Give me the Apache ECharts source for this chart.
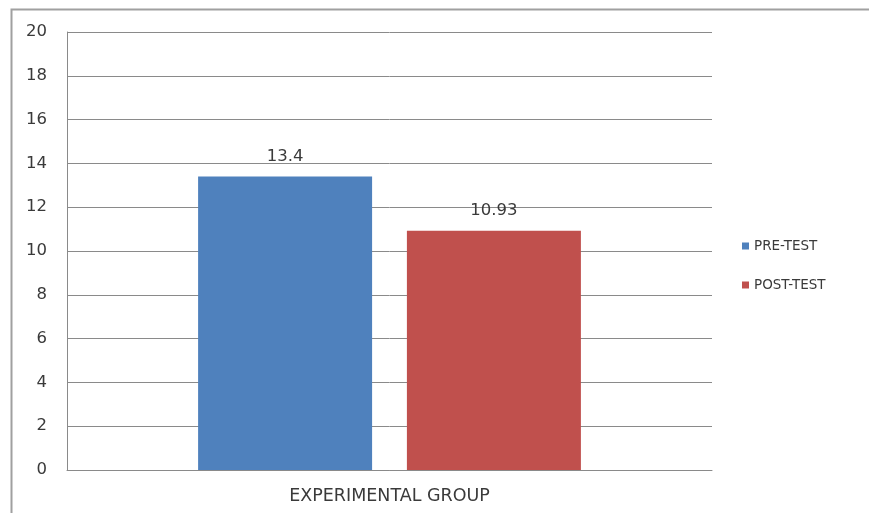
<!DOCTYPE html>
<html>
<head>
<meta charset="utf-8">
<script src="https://cdn.jsdelivr.net/npm/echarts@6/dist/echarts.min.js"></script>
<style>
  html, body { margin: 0; padding: 0; background: #fff; }
  #chart { width: 869px; height: 513px; }
</style>
</head>
<body>
<div id="chart"></div>
<script>
// Group labels along the x axis
const categories = ['EXPERIMENTAL GROUP'];
// Mean scores for each test
const preTest = [13.4];
const postTest = [10.93];
// Value axis range
const yMin = 0, yMax = 20, yStep = 2;

const font = '"DejaVu Sans", "Liberation Sans", Arial, sans-serif';
const textColor = '#3a3a3a';
const chart = echarts.init(document.getElementById('chart'));

chart.setOption({
  backgroundColor: '#fff',
  animation: false,
  textStyle: { fontFamily: font },
  graphic: [{
    type: 'rect',
    shape: { x: 11.5, y: 9.5, width: 900, height: 600 },
    style: { fill: 'none', stroke: '#a0a0a0', lineWidth: 2 },
    silent: true
  }],
  grid: { left: 67, top: 32, right: 157, bottom: 43 },
  legend: {
    orient: 'vertical',
    left: 737,
    top: 234,
    itemWidth: 7,
    itemHeight: 7,
    itemGap: 25,
    icon: 'rect',
    textStyle: { fontFamily: font, fontSize: 13.5, color: textColor },
    data: ['PRE-TEST', 'POST-TEST']
  },
  xAxis: {
    type: 'category',
    data: categories,
    axisLine: { lineStyle: { color: '#8a8a8a', width: 1 } },
    axisTick: { show: false },
    axisLabel: { fontFamily: font, fontSize: 17.5, color: textColor, margin: 17 }
  },
  yAxis: {
    type: 'value',
    min: yMin,
    max: yMax,
    interval: yStep,
    axisLine: { show: true, lineStyle: { color: '#8a8a8a', width: 1 } },
    axisTick: { show: false },
    splitLine: { lineStyle: { color: '#8a8a8a', width: 1 } },
    axisLabel: { fontFamily: font, fontSize: 16.5, color: textColor, margin: 20 }
  },
  series: [
    {
      name: 'PRE-TEST',
      type: 'bar',
      data: preTest,
      barWidth: 174,
      barGap: '20%',
      itemStyle: { color: '#4f81bd' },
      label: { show: true, position: 'top', distance: 11, fontFamily: font, fontSize: 16.5, color: textColor }
    },
    {
      name: 'POST-TEST',
      type: 'bar',
      data: postTest,
      barWidth: 174,
      itemStyle: { color: '#c0504d' },
      label: { show: true, position: 'top', distance: 11, fontFamily: font, fontSize: 16.5, color: textColor }
    }
  ]
});
</script>
</body>
</html>
